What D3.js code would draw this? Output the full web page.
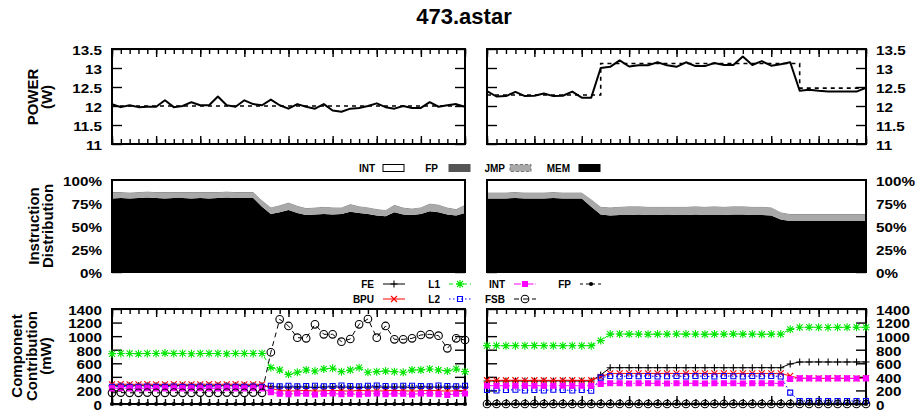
<!DOCTYPE html>
<html><head><meta charset="utf-8">
<script src="https://cdn.jsdelivr.net/npm/d3@7"></script>
<style>
body{margin:0;background:#fff;}
svg{display:block;font-family:"Liberation Sans",Arial,Helvetica,sans-serif;font-weight:bold;}
</style></head><body>
<svg id="c" width="916" height="413"></svg>
<script>
// ---------------- DATA ----------------
const title = "473.astar";
const samples = [0,1,2,3,4,5,6,7,8,9,10,11,12,13,14,15,16,17,18,19,20,21,22,23,24,25,26,27,28,29,30,31,32,33,34,35,36,37,38,39,40];
const majorX = [0,5,10,15,20,25,30,35,40];
const powerTicks = [11,11.5,12,12.5,13,13.5];
const distTicks = [0,25,50,75,100];
const compTicks = [0,200,400,600,800,1000,1200,1400];
const distKeys = ["MEM","JMP","FP","INT"];
const compKeys = ["FE","BPU","L1","L2","INT","FSB","FP"];

// power (W) : measured and phase average
const powerL = [12.05,11.97,12.02,11.97,11.98,11.98,12.15,11.97,12.0,12.1,12.02,12.02,12.25,12.02,11.98,12.15,12.05,12.02,12.17,12.02,11.93,12.05,11.98,11.93,12.05,11.88,11.85,11.93,11.95,12.0,12.07,11.97,11.93,12.0,11.95,11.95,12.1,11.98,12.02,12.05,11.98];
const powerAvgL = [12,12,12,12,12,12,12,12,12,12,12,12,12,12,12,12,12,12,12,12,12,12,12,12,12,12,12,12,12,12,12,12,12,12,12,12,12,12,12,12,12];
const powerR = [12.39,12.25,12.26,12.37,12.26,12.27,12.33,12.26,12.27,12.38,12.22,12.22,13.0,13.03,13.2,13.04,13.07,13.07,13.15,13.07,13.03,13.15,13.05,13.05,13.13,13.08,13.08,13.3,13.08,13.18,13.06,13.1,13.15,12.4,12.43,12.4,12.38,12.38,12.38,12.38,12.48];
const powerAvgR = [12.29,12.29,12.29,12.29,12.29,12.29,12.29,12.29,12.29,12.29,12.29,12.29,13.12,13.12,13.12,13.12,13.12,13.12,13.12,13.12,13.12,13.12,13.12,13.12,13.12,13.12,13.12,13.12,13.12,13.12,13.12,13.12,13.12,12.47,12.47,12.47,12.47,12.47,12.47,12.47,12.47];

// instruction distribution (%) ; INT is the remainder to 100%
const memL = [80,80.5,80,80.5,81,80.5,80,80.5,80.5,80,80.5,80,80.5,81,80.5,80.5,80.5,71,63,65,67.5,64,62,62.5,63,62.5,63,65.5,64,63,61.5,60.5,65,62.5,62,63,66,65,62.5,61.5,64];
const jmpL = [6.5,6,6,6,6,6,6.5,6,6,6.5,6,6.5,6,6,6,6,6,6.5,7,7,7.5,7.5,7,7,7.5,7.5,6.5,8,7,7,6.5,6.5,7.5,7,6.5,7,8,8,7,6.5,8.5];
const fpDistL = [0.5,0.5,0.5,0.5,0.5,0.5,0.5,0.5,0.5,0.5,0.5,0.5,0.5,0.5,0.5,0.5,0.5,0.5,0.5,0.5,0.5,0.5,0.5,0.5,0.5,0.5,0.5,0.5,0.5,0.5,0.5,0.5,0.5,0.5,0.5,0.5,0.5,0.5,0.5,0.5,0.5];
const memR = [80,80,80,80.5,80,80,80,80.5,80,80,80,71,62.5,61.5,62,62,62.5,62,62,62.5,62,62,62.5,62,62,62,62.5,62.5,62,62,61.5,57,55.5,55.5,55.5,55.5,55.5,55.5,55.5,55.5,55.5];
const jmpR = [6,6,6,6,6,6,6,6,6,6,6,7.5,8,8.5,8.5,9,8.5,8.5,8.5,8,8.5,8.5,8.5,8.5,9,8.5,8.5,8.5,8.5,8.5,8.5,7.5,7,7,7,7,7,7,7,7,7];
const fpDistR = [0.5,0.5,0.5,0.5,0.5,0.5,0.5,0.5,0.5,0.5,0.5,0.5,0.5,0.5,0.5,0.5,0.5,0.5,0.5,0.5,0.5,0.5,0.5,0.5,0.5,0.5,0.5,0.5,0.5,0.5,0.5,0.5,0.5,0.5,0.5,0.5,0.5,0.5,0.5,0.5,0.5];

// component contribution (mW)
const feL  = [268,270,268,270,268,270,268,270,270,268,270,268,270,268,270,270,268,270,255,250,248,252,250,245,250,252,248,250,245,250,252,248,250,250,245,252,250,248,250,252,248];
const bpuL = [290,292,290,290,292,290,290,292,290,290,290,292,290,290,292,290,290,290,230,200,190,195,200,190,195,200,195,190,200,195,190,195,200,195,190,195,200,195,190,195,200];
const l1L  = [740,745,745,740,745,745,750,745,745,740,745,745,745,740,745,745,745,745,536,501,437,467,501,486,516,526,477,501,535,467,477,486,477,467,501,501,516,501,486,516,477];
const l2L  = [255,258,255,255,258,255,255,258,255,255,258,255,255,258,255,255,258,255,270,262,268,262,265,270,262,265,272,265,262,268,272,265,262,268,270,265,262,272,265,262,268];
const intL = [231,233,231,231,233,231,231,233,231,231,233,231,231,233,231,231,233,231,175,150,145,155,150,140,150,155,145,150,140,150,155,145,150,150,140,155,150,145,135,150,155];
const fsbL = [165,168,165,165,168,165,165,168,165,165,168,165,165,168,165,165,168,165,762,1248,1150,978,968,1174,1027,1027,919,958,1174,1253,978,1150,953,953,968,1017,1027,1007,820,968,943];
const fpL  = [0,0,0,0,0,0,0,0,0,0,0,0,0,0,0,0,0,0,0,0,0,0,0,0,0,0,0,0,0,0,0,0,0,0,0,0,0,0,0,0,0];
const feR  = [339,339,340,339,339,338,339,339,340,339,339,339,428,535,535,536,535,535,535,536,535,535,535,535,536,535,535,535,535,536,535,535,590,619,619,620,619,619,619,620,619];
const bpuR = [350,348,350,350,348,350,350,348,350,350,348,350,400,452,450,452,450,452,450,452,450,452,450,452,450,452,450,452,450,452,450,452,413,378,380,378,378,380,378,378,380];
const l1R  = [860,860,858,860,860,862,860,860,858,860,860,860,934,1030,1032,1030,1030,1028,1030,1030,1032,1030,1030,1028,1030,1030,1032,1030,1030,1028,1030,1030,1100,1130,1132,1130,1128,1130,1130,1132,1130];
const l2R  = [206,200,206,210,200,206,200,210,206,200,206,195,388,413,405,413,408,413,405,410,413,405,413,408,405,413,410,405,413,408,413,405,167,45,45,45,45,45,45,45,45];
const intR = [270,270,268,270,270,270,268,270,270,270,268,270,295,305,305,303,305,305,305,303,305,305,305,303,305,305,305,303,305,305,305,303,369,378,378,376,378,378,378,376,378];
const fsbR = [0,0,0,0,0,0,0,0,0,0,0,0,0,0,0,0,0,0,0,0,0,0,0,0,0,0,0,0,0,0,0,0,0,0,0,0,0,0,0,0,0];
const fpR  = [0,0,0,0,0,0,0,0,0,0,0,0,0,0,0,0,0,0,0,0,0,0,0,0,0,0,0,0,0,0,0,0,0,0,0,0,0,0,0,0,0];

// ---------------- STYLE ----------------
const FONT = '"Liberation Sans", Arial, Helvetica, sans-serif';
const distColor = {MEM:"#000000", JMP:"#a9a9a9", FP:"#555555", INT:"#ffffff"};
const compStyle = {
  FE:  {color:"#000000", dash:null,          marker:"plus"},
  BPU: {color:"#ff0000", dash:null,          marker:"cross"},
  L1:  {color:"#00e600", dash:"4,3",         marker:"star"},
  L2:  {color:"#0000ff", dash:"1.5,2.5",     marker:"osquare"},
  INT: {color:"#ff00ff", dash:"7,2,1.5,2",   marker:"fsquare"},
  FSB: {color:"#000000", dash:"5,4",         marker:"ocircle"},
  FP:  {color:"#000000", dash:"3,3",         marker:"fcircle"}
};
const markerPath = {
  plus: "M-3.5,0H3.5M0,-3.5V3.5",
  cross:"M-3,-3L3,3M-3,3L3,-3",
  star: "M-4,0H4M0,-4V4M-3,-3L3,3M-3,3L3,-3",
  osquare:"M-2.5,-2.5H2.5V2.5H-2.5Z",
  fsquare:"M-2.5,-2.5H2.5V2.5H-2.5Z"
};

const svg = d3.select("#c");
const yPow  = d3.scaleLinear().domain([11,13.5]).range([144,49]);
const yDist = d3.scaleLinear().domain([0,100]).range([272,180]);
const yComp = d3.scaleLinear().domain([0,1400]).range([404,309]);

const panels = [
  {x0:112, x1:465, side:"left",  power:powerL, avg:powerAvgL, dist:{MEM:memL,JMP:jmpL,FP:fpDistL},
   comp:{FE:feL,BPU:bpuL,L1:l1L,L2:l2L,INT:intL,FSB:fsbL,FP:fpL}},
  {x0:487, x1:866, side:"right", power:powerR, avg:powerAvgR, dist:{MEM:memR,JMP:jmpR,FP:fpDistR},
   comp:{FE:feR,BPU:bpuR,L1:l1R,L2:l2R,INT:intR,FSB:fsbR,FP:fpR}}
];

function clean(sel){ sel.select(".domain").remove(); sel.selectAll("line").attr("stroke","#000").attr("stroke-width",1.4); }

function xTicks(g, x, y0, y1){
  g.append("g").attr("transform",`translate(0,${y0})`).call(d3.axisBottom(x).tickValues(majorX).tickSize(8).tickFormat("")).call(clean);
  g.append("g").attr("transform",`translate(0,${y0})`).call(d3.axisBottom(x).tickValues(samples).tickSize(5).tickFormat("")).call(clean);
  g.append("g").attr("transform",`translate(0,${y1})`).call(d3.axisTop(x).tickValues(majorX).tickSize(8).tickFormat("")).call(clean);
  g.append("g").attr("transform",`translate(0,${y1})`).call(d3.axisTop(x).tickValues(samples).tickSize(5).tickFormat("")).call(clean);
}
function yTicks(g, y, ticks, x0, x1){
  g.append("g").attr("transform",`translate(${x0},0)`).call(d3.axisRight(y).tickValues(ticks).tickSize(10).tickFormat("")).call(clean);
  g.append("g").attr("transform",`translate(${x1},0)`).call(d3.axisLeft(y).tickValues(ticks).tickSize(10).tickFormat("")).call(clean);
}
function yLabels(g, y, ticks, fmt, p){
  const ax = p.side==="left" ? d3.axisLeft(y) : d3.axisRight(y);
  ax.tickValues(ticks).tickSize(0).tickPadding(10).tickFormat(fmt);
  const a = g.append("g").attr("transform",`translate(${p.side==="left"?p.x0:p.x1},0)`).call(ax);
  a.select(".domain").remove();
  a.selectAll("text").each(function(){
    const t = d3.select(this);
    const tx = +t.attr("x");
    t.attr("x",0).attr("transform",`translate(${tx},1) scale(1.27,1)`);
  }).attr("font-size",12).attr("font-family",FONT).attr("font-weight","bold").attr("fill","#000").attr("dy","0.36em");
}
function border(g,p,y){
  const r = y.range();
  g.append("rect").attr("x",p.x0).attr("y",r[1]).attr("width",p.x1-p.x0).attr("height",r[0]-r[1])
    .attr("fill","none").attr("stroke","#000").attr("stroke-width",2);
}
function drawMarker(sel, type, color){
  if(type==="ocircle"){
    sel.append("circle").attr("r",3.8).attr("fill","none").attr("stroke",color).attr("stroke-width",1.1);
  } else if(type==="fcircle"){
    sel.append("circle").attr("r",2.1).attr("fill",color);
  } else {
    sel.append("path").attr("d",markerPath[type])
      .attr("fill", type==="fsquare"?color:"none").attr("stroke",color).attr("stroke-width",1.1);
  }
}

panels.forEach(p=>{
  const x = d3.scaleLinear().domain([0,40]).range([p.x0,p.x1]);

  // ---- POWER ----
  const gp = svg.append("g");
  xTicks(gp,x,49,144);
  yTicks(gp,yPow,powerTicks,p.x0,p.x1);
  yLabels(gp,yPow,powerTicks,d=>String(d),p);
  gp.append("path").datum(samples).attr("fill","none").attr("stroke","#000").attr("stroke-width",1.6)
    .attr("stroke-dasharray","4,4")
    .attr("d",d3.line().x(i=>x(i)).y(i=>yPow(p.avg[i])).curve(d3.curveStepAfter));
  gp.append("path").datum(samples).attr("fill","none").attr("stroke","#000").attr("stroke-width",2)
    .attr("stroke-linejoin","round")
    .attr("d",d3.line().x(i=>x(i)).y(i=>yPow(p.power[i])));
  border(gp,p,yPow);

  // ---- DISTRIBUTION ----
  const gd = svg.append("g");
  yTicks(gd,yDist,distTicks,p.x0,p.x1);
  yLabels(gd,yDist,distTicks,d=>d+"%",p);
  const rows = samples.map(i=>{
    const o = {i:i, MEM:p.dist.MEM[i], JMP:p.dist.JMP[i], FP:p.dist.FP[i]};
    o.INT = 100 - o.MEM - o.JMP - o.FP;
    return o;
  });
  const stack = d3.stack().keys(distKeys)(rows);
  const area = d3.area().x(d=>x(d.data.i)).y0(d=>yDist(d[0])).y1(d=>yDist(d[1]));
  gd.selectAll("path.a").data(stack).join("path").attr("class","a")
    .attr("fill",d=>distColor[d.key]).attr("d",area);
  border(gd,p,yDist);

  // ---- COMPONENTS ----
  const gc = svg.append("g");
  xTicks(gc,x,309,404);
  yTicks(gc,yComp,compTicks,p.x0,p.x1);
  yLabels(gc,yComp,compTicks,d=>String(d),p);
  border(gc,p,yComp);
  compKeys.forEach(k=>{
    const st = compStyle[k], vals = p.comp[k];
    gc.append("path").datum(samples).attr("fill","none").attr("stroke",st.color).attr("stroke-width",1)
      .attr("stroke-dasharray",st.dash)
      .attr("d",d3.line().x(i=>x(i)).y(i=>yComp(vals[i])));
    const m = gc.append("g").selectAll("g").data(samples).join("g")
      .attr("transform",i=>`translate(${x(i)},${yComp(vals[i])})`);
    drawMarker(m, st.marker, st.color);
  });
});

// ---------------- TEXT / LEGENDS ----------------
svg.append("text").attr("x",464).attr("y",24).attr("text-anchor","middle").attr("font-size",22).text(title);

function yTitle(lines, cy, xs){
  lines.forEach((t,j)=>{
    svg.append("text").attr("transform",`translate(${xs[j]},${cy}) rotate(-90)`)
      .attr("text-anchor","middle").attr("font-size",15).text(t);
  });
}
yTitle(["POWER","(W)"],97,[38,52]);
yTitle(["Instruction","Distribution"],226,[39,53]);
yTitle(["Component","Contribution","(mW)"],356,[22,37,51]);

// distribution legend
const distLegend = [
  {k:"INT", tx:375, bx:383},
  {k:"FP",  tx:438, bx:449},
  {k:"JMP", tx:505, bx:510},
  {k:"MEM", tx:570, bx:579}
];
distLegend.forEach(d=>{
  svg.append("text").attr("x",d.tx).attr("y",172).attr("text-anchor","end").attr("font-size",10).text(d.k);
  svg.append("rect").attr("x",d.bx).attr("y",164.5).attr("width",21).attr("height",7)
    .attr("fill",distColor[d.k]).attr("stroke", d.k==="JMP"?"#777":(d.k==="FP"?"#555":"#000"))
    .attr("stroke-dasharray", d.k==="JMP"?"3,2":null).attr("stroke-width",1);
});

// component legend
const compLegend = [
  {k:"FE", tx:374, row:0},{k:"BPU",tx:374,row:1},
  {k:"L1", tx:440, row:0},{k:"L2", tx:440,row:1},
  {k:"INT",tx:505, row:0},{k:"FSB",tx:505,row:1},
  {k:"FP", tx:571, row:0}
];
compLegend.forEach(d=>{
  const y = d.row===0?284:299;
  const st = compStyle[d.k];
  svg.append("text").attr("x",d.tx).attr("y",y+4).attr("text-anchor","end").attr("font-size",10).text(d.k);
  svg.append("line").attr("x1",d.tx+9).attr("x2",d.tx+31).attr("y1",y).attr("y2",y)
    .attr("stroke",st.color).attr("stroke-width",1).attr("stroke-dasharray",st.dash);
  const m = svg.append("g").attr("transform",`translate(${d.tx+20},${y})`);
  drawMarker(m, st.marker, st.color);
});
</script>
</body></html>
